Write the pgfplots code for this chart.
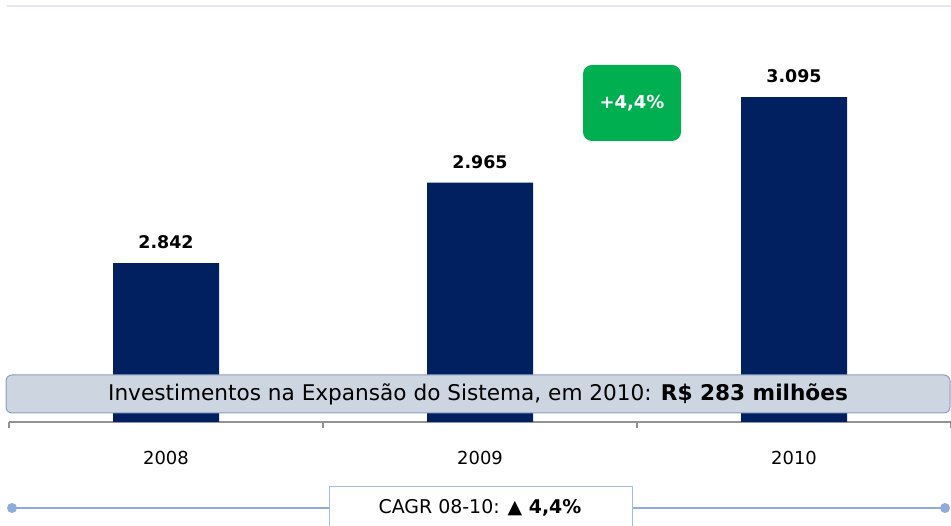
\documentclass[border=0pt]{standalone}
\usepackage{pgfplots}
\pgfplotsset{compat=1.18}
\usepackage{fontspec}
\setmainfont{DejaVu Sans}
\definecolor{barblue}{HTML}{002060}
\definecolor{bannerfill}{HTML}{CDD5E1}
\definecolor{bannerdraw}{HTML}{8C9FC2}
\definecolor{lineblue}{HTML}{8FAADC}
\definecolor{greenbox}{HTML}{00B050}
\definecolor{topline}{HTML}{E4E8EE}
\begin{document}
\begin{tikzpicture}[x=1bp,y=1bp]
\useasboundingbox (0,0) rectangle (951,526);
\begin{scope}
\clip (0,0) rectangle (951,526);
% top line
\draw[topline, line width=2bp] (7,519.5) -- (951,519.5);
\begin{axis}[
  at={(9bp,104bp)}, anchor=south west,
  width=942bp, height=414bp, scale only axis,
  xmin=-0.5, xmax=2.5, ymin=2600, ymax=3231,
  axis x line*=bottom, axis y line=none,
  x axis line style={-, color=gray!85, line width=1.2bp},
  xtick={0,1,2}, xticklabels={2008,2009,2010},
  major tick length=0pt,
  xticklabel style={font=\fontsize{18}{21}\selectfont, anchor=north, inner sep=0pt, yshift=-29bp},
  extra x ticks={-0.5,0.5,1.5,2.5}, extra x tick labels={},
  extra x tick style={major tick length=6bp, tick style={color=gray!85, line width=1.2bp}, tick align=outside},
  /pgf/number format/assume math mode=true,
  clip=false,
]
\addplot[ybar, bar width=106bp, fill=barblue, draw=none,
  nodes near coords={\pgfmathprintnumber[fixed, 1000 sep={.}, assume math mode=true]{\pgfplotspointmeta}},
  every node near coord/.append style={font=\bfseries\fontsize{17.5}{20}\selectfont, black, inner sep=0pt, anchor=south, yshift=14bp}]
  coordinates {(0,2842) (1,2965) (2,3095)};
\end{axis}
% green box
\node[fill=greenbox, rounded corners=9bp, minimum width=98bp, minimum height=76bp, inner sep=0pt, text=white, font=\bfseries\fontsize{18}{21}\selectfont] at (632,423) {+4,4\%};
% banner
\draw[bannerdraw, fill=bannerfill, rounded corners=6bp, line width=1bp] (6,151) rectangle (950,113);
\node[font=\fontsize{21.7}{25}\selectfont, inner sep=0pt] at (478,132) {Investimentos na Expansão do Sistema, em 2010: \textbf{R\$ 283 milhões}};
% bottom line
\draw[lineblue, line width=2.2bp] (12,18) -- (945,18);
\fill[lineblue] (12,18) circle (5bp);
\fill[lineblue] (945,18) circle (5bp);
\draw[lineblue!80, fill=white, line width=1bp] (329,-10) rectangle (632,39);
\node[font=\fontsize{19}{22}\selectfont, inner sep=0pt] at (480,18) {CAGR 08-10: \textbf{▲ 4,4\%}};
\end{scope}
\end{tikzpicture}
\end{document}
